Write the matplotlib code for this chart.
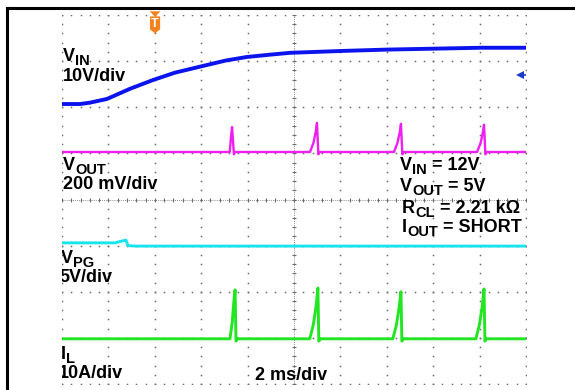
import numpy as np
import matplotlib
matplotlib.use('Agg')
import matplotlib.pyplot as plt
from matplotlib.lines import Line2D
from matplotlib.patches import Polygon

plt.rcParams['font.family'] = ['Liberation Sans', 'DejaVu Sans']

# time in ms (2 ms/div), level in screen divisions (0..8)
vin_t = [0, 0.78, 1.21, 1.94, 2.93, 3.92, 4.87, 5.95, 7.03, 7.97, 8.97, 9.83, 12.03, 14.0, 16.03, 18.06, 20]
vin_v = [6.07, 6.07, 6.10, 6.18, 6.40, 6.59, 6.75, 6.88, 7.01, 7.09, 7.14, 7.18, 7.22, 7.25, 7.27, 7.29, 7.29]

vout_t = [0, 7.23, 7.28, 7.33, 7.41, 7.45,
          10.69, 10.84, 10.94, 10.99, 11.05, 11.11,
          14.31, 14.46, 14.56, 14.61, 14.67, 14.73,
          17.89, 18.04, 18.14, 18.19, 18.25, 18.31, 20]
vout_v = [5.03, 5.03, 5.33, 5.57, 4.98, 5.03,
          5.03, 5.23, 5.48, 5.66, 4.98, 5.03,
          5.03, 5.23, 5.46, 5.64, 4.98, 5.03,
          5.03, 5.22, 5.45, 5.62, 4.98, 5.03, 5.03]

vpg_t = [0, 2.28, 2.59, 2.76, 2.84, 3.15, 20]
vpg_v = [3.06, 3.06, 3.10, 3.12, 3.00, 2.99, 2.99]

il_t = [0, 7.24, 7.34, 7.40, 7.46, 7.50, 7.56,
        10.68, 10.83, 10.95, 11.03, 11.07, 11.13,
        14.26, 14.41, 14.53, 14.61, 14.65, 14.71,
        17.84, 17.99, 18.11, 18.19, 18.23, 18.29, 20]
il_v = [0.98, 0.98, 1.35, 1.75, 2.04, 0.93, 0.98,
        0.98, 1.28, 1.68, 2.08, 0.93, 0.98,
        0.98, 1.27, 1.65, 2.00, 0.93, 0.98,
        0.98, 1.28, 1.67, 2.06, 0.93, 0.98, 0.98]

trig_t = 4.0
vin_marker = 6.70

fig = plt.figure(figsize=(5.75, 3.9), dpi=100)
ax = fig.add_axes([62/575, 6/390, 464/575, 369/390])
ax.set_xlim(0, 20)
ax.set_ylim(0, 8)
ax.axis('off')

# frame
fig.add_artist(Line2D([7/575, 1], [1 - 8/390, 1 - 8/390], color='black', lw=2.2))
fig.add_artist(Line2D([7/575, 7/575], [0, 1 - 8/390], color='black', lw=2.2))

# scope graticule
gc = '#6a6a6a'
gx = np.arange(0, 20.01, 0.4)
gy = np.arange(0, 8.001, 0.2)
for yv in range(9):
    ax.plot(gx, np.full_like(gx, yv), ls='none', marker='s', ms=1.1, mew=0, color=gc, zorder=1)
for xv in range(0, 21, 2):
    ax.plot(np.full_like(gy, xv), gy, ls='none', marker='s', ms=1.1, mew=0, color=gc, zorder=1)
ax.plot([0, 20], [4, 4], ls=(0, (1, 1.5)), lw=0.6, color=gc, zorder=1)
ax.plot([10, 10], [0, 8], ls=(0, (1, 1.5)), lw=0.6, color=gc, zorder=1)
ax.plot(gx, np.full_like(gx, 4), ls='none', marker='|', ms=3.5, mew=0.7, color=gc, zorder=1)
ax.plot(np.full_like(gy, 10), gy, ls='none', marker='_', ms=3.5, mew=0.7, color=gc, zorder=1)

# traces
ax.plot(vin_t, vin_v, color='#0c14ee', lw=2.8, zorder=3)
ax.plot(vout_t, vout_v, color='#f01ef0', lw=1.7, zorder=3)
ax.plot(vpg_t, vpg_v, color='#18e4ee', lw=2.1, zorder=3)
ax.plot(il_t, il_v, color='#22e622', lw=2.1, zorder=3)

# trigger marker (orange T) and channel 1 level arrow
orange = '#f5821f'
ax.add_patch(Polygon([(3.78, 8.08), (4.24, 8.08), (4.01, 7.96)], closed=True,
                     fc=orange, ec='none', clip_on=False, zorder=5))
ax.add_patch(Polygon([(3.79, 7.97), (4.23, 7.97), (4.23, 7.69), (4.01, 7.60), (3.79, 7.69)],
                     closed=True, fc=orange, ec='none', clip_on=False, zorder=5))
ax.text(4.01, 7.80, 'T', ha='center', va='center', color='white', fontsize=9,
        fontweight='bold', clip_on=False, zorder=6)
ax.plot(19.75, vin_marker, marker='<', ms=6, color='#1a3cc8', mew=0, zorder=5)
ax.plot([19.75, 20], [vin_marker, vin_marker], color='#1a3cc8', lw=1.2, zorder=5)


def label(x, y, main, sub='', rest='', clip=False):
    kw = dict(fontsize=13, fontweight='bold', color='black')
    t = ax.text(x, y, main, va='baseline', ha='left', clip_on=clip, zorder=6, **kw)
    last = t
    if sub:
        s = ax.annotate(sub, xy=(1, 0), xycoords=t, xytext=(0.3, -2.2), textcoords='offset points',
                        va='bottom', ha='left', fontsize=10.5, fontweight='bold', color='black',
                        clip_on=clip, zorder=6)
        last = s
    if rest:
        ax.annotate(rest, xy=(1, 0), xycoords=(last, t), va='bottom', ha='left',
                    clip_on=clip, zorder=6, **kw)


label(0.04, 7.01, 'V', 'IN')
label(0.04, 6.57, '10V/div')
label(0.04, 4.65, 'V', 'OUT')
label(0.04, 4.22, '200 mV/div')
label(-0.04, 2.62, 'V', 'PG', clip=True)
label(-0.13, 2.21, '5V/div', clip=True)
label(-0.07, 0.54, 'I', 'L', clip=True)
label(-0.15, 0.13, '10A/div', clip=True)
label(8.32, 0.09, '2 ms/div')

label(14.57, 4.65, 'V', 'IN', ' = 12V')
label(14.57, 4.19, 'V', 'OUT', ' = 5V')
label(14.65, 3.70, 'R', 'CL', ' = 2.21 k\u03a9')
label(14.65, 3.29, 'I', 'OUT', ' = SHORT')

fig.savefig('out.png', dpi=100)
